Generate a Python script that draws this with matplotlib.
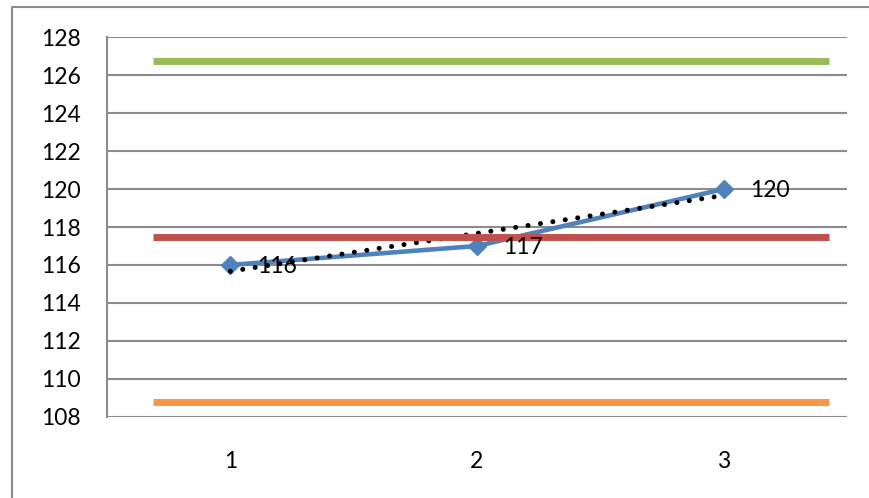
import numpy as np
import matplotlib.pyplot as plt
from matplotlib.lines import Line2D

# -----------------------------
# Data
# -----------------------------
categories = [1, 2, 3]
values = [116, 117, 120]

# reference levels (upper / mean / lower)
upper_level = 126.75
mean_level = 117.45
lower_level = 108.8
level_span = (0.686, 3.427)

yticks = list(range(108, 129, 2))

plt.rcParams["font.family"] = ["Lato", "DejaVu Sans"]

fig = plt.figure(figsize=(8.69, 4.98), dpi=100)
ax = fig.add_axes([0.1231, 0.1633, 0.8516, 0.7617])

# outer chart border: only the top and left edges fall inside the image
bx, by = 12 / 869, 1 - 7.5 / 498
fig.add_artist(Line2D([bx, bx, 1.0], [0.0, by, by], transform=fig.transFigure,
                      color="#8c8c8c", linewidth=1.5))

grid_col = "#8c8c8c"
for y in yticks:
    ax.axhline(y, color=grid_col, linewidth=1.5, zorder=1)

ax.hlines(upper_level, *level_span, color="#9bbb59", linewidth=5, zorder=2)
ax.hlines(lower_level, *level_span, color="#f79646", linewidth=5, zorder=2)

# actual values
ax.plot(categories, values, color="#4f81bd", linewidth=3.3, marker="D",
        markersize=9, markeredgecolor="#4f81bd", zorder=3)

# linear trendline
slope, intercept = np.polyfit(categories, values, 1)
trend = [slope * x + intercept for x in categories]
ax.plot(categories, trend, color="black", linewidth=3.6,
        linestyle=(0, (0.01, 2.5)), dash_capstyle="round", zorder=4)

ax.hlines(mean_level, *level_span, color="#c0504d", linewidth=5, zorder=5)

for x, v in zip(categories, values):
    ax.annotate(str(v), (x, v), xytext=(19, -1), textcoords="offset points",
                ha="left", va="center", fontsize=16.5, color="black", zorder=6)

ax.set_xlim(0.5, 3.5)
ax.set_ylim(108, 128)
ax.set_xticks(categories)
ax.set_yticks(yticks)
ax.tick_params(axis="both", length=0, labelsize=16.5)
ax.tick_params(axis="y", pad=19)
ax.tick_params(axis="x", pad=25)

for side in ["top", "right", "bottom"]:
    ax.spines[side].set_visible(False)
ax.spines["left"].set_color(grid_col)
ax.spines["left"].set_linewidth(1.5)

fig.savefig("out.png", dpi=100)
